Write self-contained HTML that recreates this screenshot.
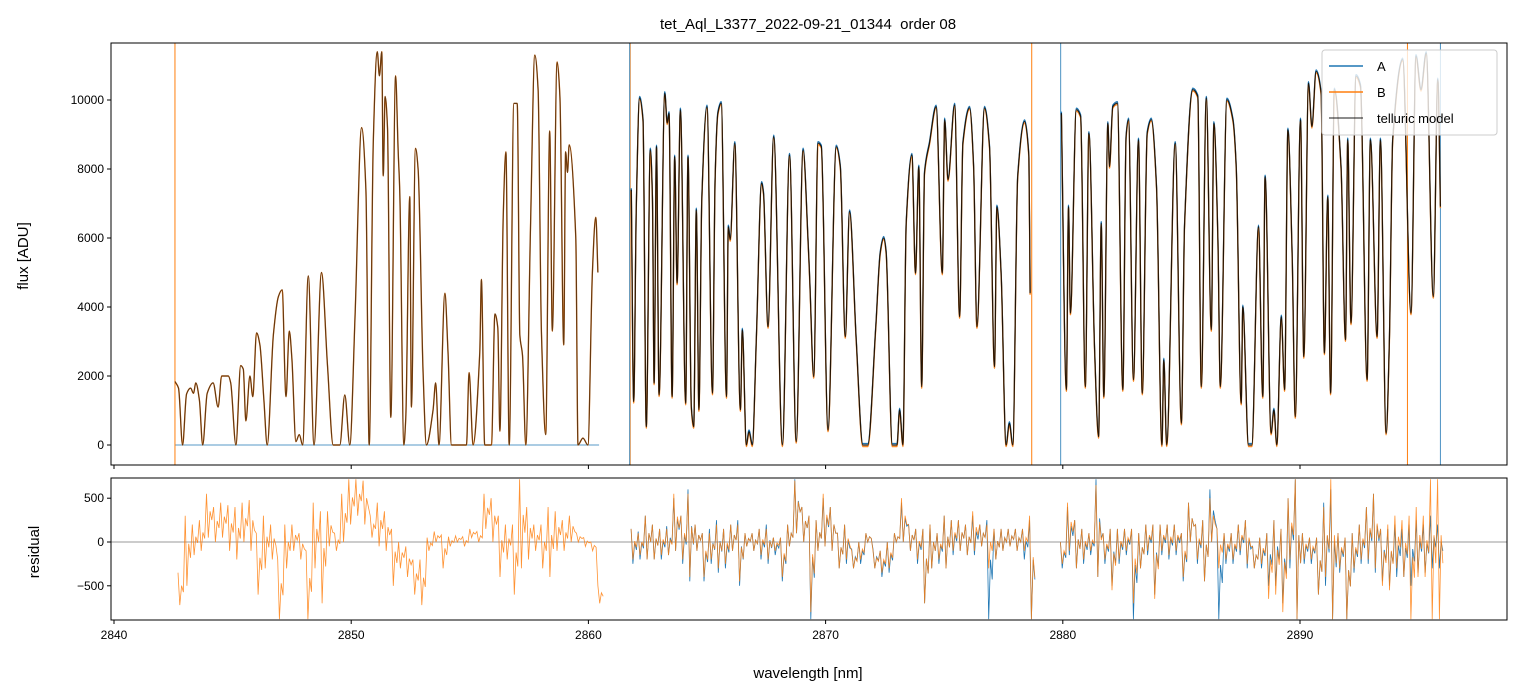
<!DOCTYPE html>
<html><head><meta charset="utf-8">
<style>
body{margin:0;background:#fff;}
svg{display:block;font-family:"Liberation Sans","DejaVu Sans",sans-serif;}
</style></head>
<body>
<svg id="chart" width="1520" height="696" viewBox="0 0 1520 696" xmlns="http://www.w3.org/2000/svg">
<defs>
<clipPath id="clipTop"><rect x="111" y="43" width="1396" height="422"/></clipPath>
<clipPath id="clipBot"><rect x="111" y="478" width="1396" height="142"/></clipPath>
</defs>
<rect width="1520" height="696" fill="#fff"/>
<text x="808" y="29" font-size="15" text-anchor="middle" style="white-space:pre">tet_Aql_L3377_2022-09-21_01344  order 08</text>
<g id="topMarks" clip-path="url(#clipTop)"></g>
<g id="botMarks" clip-path="url(#clipBot)"></g>
<g id="axes"></g>
<text transform="translate(28,256) rotate(-90)" font-size="15" text-anchor="middle">flux [ADU]</text>
<text transform="translate(39,552) rotate(-90)" font-size="15" text-anchor="middle">residual</text>
<text x="808" y="678" font-size="15" text-anchor="middle">wavelength [nm]</text>
<g>
<rect x="1322" y="50" width="175" height="85" rx="3" fill="#fff" fill-opacity="0.8" stroke="#ccc"/>
<line x1="1329" y1="66" x2="1363" y2="66" stroke="#1f77b4" stroke-width="1.5"/>
<text x="1377" y="71" font-size="13">A</text>
<line x1="1329" y1="92" x2="1363" y2="92" stroke="#ff7f0e" stroke-width="1.5"/>
<text x="1377" y="97" font-size="13">B</text>
<line x1="1329" y1="118" x2="1363" y2="118" stroke="#000" stroke-opacity="0.6" stroke-width="1.5"/>
<text x="1377" y="123" font-size="13">telluric model</text>
</g>
</svg>
<script>
const xTicks=[2840,2850,2860,2870,2880,2890];
const yTicksTop=[0,2000,4000,6000,8000,10000];
const yTicksBot=[-500,0,500];
const seg1Wl=[2842.57,2842.72,2842.89,2843.06,2843.23,2843.35,2843.45,2843.6,2843.74,2843.93,2844.18,2844.39,2844.54,2844.82,2844.92,2845.14,2845.34,2845.45,2845.56,2845.73,2845.85,2846.01,2846.15,2846.32,2846.46,2846.72,2846.93,2847.09,2847.25,2847.39,2847.5,2847.67,2847.81,2847.95,2848.19,2848.43,2848.75,2849.0,2849.24,2849.52,2849.73,2849.94,2850.16,2850.44,2850.62,2850.76,2850.93,2851.10,2851.19,2851.29,2851.35,2851.43,2851.53,2851.67,2851.87,2851.98,2852.05,2852.22,2852.3,2852.47,2852.54,2852.71,2852.82,2853.03,2853.17,2853.45,2853.56,2853.70,2853.95,2854.08,2854.23,2854.86,2854.97,2855.14,2855.42,2855.49,2855.63,2855.91,2856.06,2856.18,2856.27,2856.41,2856.52,2856.66,2856.86,2857.0,2857.11,2857.22,2857.36,2857.56,2857.74,2857.88,2858.02,2858.2,2858.37,2858.48,2858.68,2858.8,2858.96,2859.04,2859.12,2859.19,2859.47,2859.56,2859.77,2859.98,2860.17,2860.31,2860.4];
const seg1Flux=[1840,1650,0,1480,1650,1500,1800,1300,0,1500,1800,1100,2000,2000,1800,0,2300,2200,700,2000,1400,3250,2900,1300,0,3200,4300,4500,1400,3300,2500,100,300,0,4900,0,5000,2300,0,0,1450,0,3700,9200,7400,0,8800,11400,10700,11400,7800,10100,9200,800,10700,8500,7300,0,800,7200,1100,8600,8000,2100,0,1000,1800,0,4400,2700,0,0,2100,0,2700,4800,0,0,3800,3400,400,6600,8500,0,9900,9900,3200,2600,0,6300,11300,10300,3300,300,9100,3300,11100,10100,2900,8500,7900,8700,6000,0,200,0,5000,6600,5000];
const seg2Wl=[2861.81,2861.91,2862.02,2862.16,2862.30,2862.44,2862.61,2862.70,2862.77,2862.87,2862.98,2863.22,2863.32,2863.40,2863.53,2863.64,2863.74,2863.88,2864.10,2864.20,2864.34,2864.44,2864.55,2864.66,2864.78,2865.00,2865.23,2865.34,2865.46,2865.60,2865.82,2865.90,2865.98,2866.17,2866.41,2866.49,2866.66,2866.77,2866.91,2867.08,2867.30,2867.38,2867.57,2867.81,2868.18,2868.48,2868.76,2869.05,2869.26,2869.33,2869.50,2869.68,2869.82,2870.10,2870.45,2870.62,2870.83,2871.01,2871.29,2871.57,2871.78,2872.11,2872.30,2872.45,2872.55,2872.81,2873.01,2873.12,2873.26,2873.40,2873.64,2873.79,2873.93,2874.05,2874.17,2874.38,2874.66,2874.92,2875.02,2875.16,2875.44,2875.65,2875.79,2876.07,2876.24,2876.38,2876.70,2876.91,2877.12,2877.22,2877.40,2877.61,2877.75,2877.89,2878.10,2878.39,2878.57,2878.62];
const seg2Flux=[7400,1260,6900,10060,9430,530,8560,7200,1790,8650,1450,10200,9330,9620,1400,8360,4690,9720,1210,8360,1110,530,6820,1020,7110,9810,1500,7690,9620,9910,1400,6330,5950,8750,1020,3340,0,390,0,3050,7590,7300,3430,8940,0,8410,100,8560,5950,4800,1980,8750,8650,430,8650,8070,3140,6770,3050,0,0,3340,5560,6000,5600,0,0,1020,0,6430,8410,4980,8070,1690,7880,8750,9810,4980,9430,7690,9860,3720,8750,9770,8070,3430,9770,8650,2270,6910,4980,0,630,0,7780,9380,8360,4400];
const seg3Wl=[2879.94,2880.15,2880.24,2880.32,2880.57,2880.75,2880.95,2881.10,2881.34,2881.51,2881.62,2881.73,2881.90,2881.97,2882.11,2882.30,2882.53,2882.67,2882.77,2882.98,2883.19,2883.35,2883.56,2883.73,2883.95,2884.18,2884.26,2884.38,2884.74,2885.0,2885.13,2885.48,2885.69,2885.84,2886.05,2886.26,2886.37,2886.54,2886.64,2886.92,2887.17,2887.31,2887.52,2887.59,2887.83,2887.97,2888.25,2888.43,2888.53,2888.78,2888.90,2889.02,2889.21,2889.35,2889.49,2889.67,2889.80,2890.02,2890.16,2890.36,2890.50,2890.68,2890.89,2891.03,2891.17,2891.29,2891.45,2891.73,2891.92,2892.01,2892.15,2892.36,2892.55,2892.83,2892.97,2893.25,2893.39,2893.63,2893.77,2893.91,2894.33,2894.68,2894.89,2895.10,2895.32,2895.62,2895.81,2895.92];
const seg3Flux=[9620,1600,6910,3820,9720,9530,1690,9040,2760,240,6430,1400,9330,8070,9810,9910,1600,8940,9430,1890,8850,1500,9040,9430,7490,0,2470,0,8750,630,6330,10300,10100,1690,10060,3340,9330,5950,1690,10010,9430,8070,1210,4010,0,0,6330,1400,7780,340,1020,0,3720,1600,9140,5460,820,9430,2560,10490,9230,10830,10200,2660,7200,1500,10300,8070,3050,8850,3530,10690,10400,1890,8850,3140,8850,340,3050,8850,11170,3820,11270,10300,11360,4300,10590,6910];
const spikeBWl=[2842.57,2861.76,2878.69,2894.53];
const spikeAWl=[2861.74,2879.91,2895.92];
const resStart=[2842.7,2861.8,2879.9];
const resStep=0.3;
const resB1Hi=[-350,300,200,250,550,400,450,420,400,450,480,100,300,200,-200,200,200,100,-100,450,350,350,100,550,716,716,700,300,450,350,150,0,-50,-200,-200,50,120,80,60,70,60,150,120,550,500,300,200,200,716,400,200,200,400,350,250,300,100,50,0,-500];
const resB1Lo=[-720,-500,-150,-100,50,0,50,-100,-200,0,-100,-600,-300,-200,-880,-300,-100,-200,-880,-300,-700,-50,-100,0,200,300,200,50,-50,-100,-500,-300,-400,-600,-720,-100,0,-300,-50,0,-50,50,0,150,0,-400,-200,-600,-300,-200,-100,-300,-400,-100,-100,0,0,-50,-100,-700];
const resB2Hi=[150,100,300,200,150,150,550,300,550,200,100,100,200,150,200,200,100,100,150,150,50,50,200,700,400,300,250,550,400,100,200,-100,0,100,-100,-100,0,100,500,200,150,150,200,100,300,250,250,200,350,200,200,150,150,150,150,150,300];
const resB2Lo=[-200,-150,-200,-200,-150,-150,-100,-200,-400,-100,-400,-200,-300,-250,-100,-450,-50,-100,-150,-200,-100,-400,-50,100,0,-800,-100,-50,-100,-300,-200,-300,-200,0,-300,-350,-300,0,0,-100,-200,-700,-300,-200,-300,-100,-100,-150,-100,-50,-300,-200,-100,-50,-100,-100,-880];
const resA2Hi=[150,120,300,200,150,180,500,300,600,200,100,150,250,150,200,250,100,100,150,200,50,50,200,716,400,300,250,500,400,100,200,-80,0,100,-80,-100,0,100,450,200,150,150,200,100,300,250,250,200,300,200,250,150,150,150,150,150,250];
const resA2Lo=[-250,-200,-200,-200,-200,-150,-100,-250,-450,-100,-450,-250,-350,-300,-100,-500,-50,-100,-200,-250,-150,-450,-50,100,0,-880,-100,-50,-100,-300,-250,-300,-250,0,-300,-400,-350,0,0,-100,-250,-700,-300,-250,-300,-150,-100,-150,-150,-50,-880,-200,-100,-50,-100,-200,-880];
const resB3Hi=[0,450,250,150,100,650,100,150,150,150,150,100,200,200,200,200,200,100,450,200,250,500,150,100,100,200,250,-50,50,100,250,150,500,716,100,50,50,400,716,100,50,100,200,400,550,150,200,300,250,300,400,300,716,716];
const resB3Lo=[-250,-100,-300,-200,-100,-400,-200,-550,-200,-100,-700,-300,-100,-650,-100,-150,-100,-400,0,-200,-450,0,-300,-200,-200,-100,-250,-300,-250,-650,-600,-800,-200,-880,-200,-200,-600,-400,-880,-300,-880,-300,-200,-200,-300,-500,-550,-300,-400,-880,-400,-400,-880,-880];
const resA3Hi=[0,400,250,150,100,716,100,150,150,150,150,100,200,200,200,200,200,100,450,200,250,600,150,100,100,200,250,-50,50,100,250,150,500,716,100,50,50,450,600,100,50,100,200,400,550,150,150,200,150,200,250,200,300,200];
const resA3Lo=[-300,-150,-300,-250,-150,-400,-250,-500,-250,-150,-880,-300,-150,-600,-150,-200,-150,-450,0,-250,-450,0,-880,-250,-250,-150,-300,-300,-300,-500,-500,-700,-300,-880,-250,-250,-600,-500,-880,-350,-880,-350,-250,-250,-350,-450,-500,-400,-400,-500,-350,-350,-300,-300];

const NS='http://www.w3.org/2000/svg';
const X=w=>114+(w-2840)*23.72;
const YT=f=>445-f*0.0345;
const YB=r=>542-r*0.0876;
function mk(tag,attrs,parent){const e=document.createElementNS(NS,tag);for(const k in attrs)e.setAttribute(k,attrs[k]);parent.appendChild(e);return e;}
const topG=document.getElementById('topMarks'),botG=document.getElementById('botMarks'),axesG=document.getElementById('axes');

// monotone cubic (Fritsch-Carlson) through screen points
function smoothPath(px,py){
  const n=px.length;const d=[],m=new Array(n).fill(0);
  for(let i=0;i<n-1;i++)d.push((py[i+1]-py[i])/(px[i+1]-px[i]||1e-6));
  m[0]=d[0];m[n-1]=d[n-2];
  for(let i=1;i<n-1;i++){m[i]=(d[i-1]*d[i]<=0)?0:2/(1/d[i-1]+1/d[i]);}
  let s='M'+px[0].toFixed(1)+' '+py[0].toFixed(1);
  for(let i=0;i<n-1;i++){const h=(px[i+1]-px[i])/3;
    s+=' C'+(px[i]+h).toFixed(1)+' '+(py[i]+m[i]*h).toFixed(1)+' '+(px[i+1]-h).toFixed(1)+' '+(py[i+1]-m[i+1]*h).toFixed(1)+' '+px[i+1].toFixed(1)+' '+py[i+1].toFixed(1);}
  return s;}
function specPath(wl,fl,dy){return smoothPath(wl.map(X),fl.map(f=>YT(f)+dy));}

let l=mk('line',{x1:X(2842.57),x2:X(2860.45),y1:YT(0),y2:YT(0),stroke:'#1f77b4','stroke-width':0.8},topG);


spikeBWl.forEach(w=>{const s=mk('line',{x1:X(w),x2:X(w),y1:43,y2:465,stroke:'#ff7f0e','stroke-width':1},topG);

});
spikeAWl.forEach(w=>{const s=mk('line',{x1:X(w),x2:X(w),y1:43,y2:465,stroke:'#1f77b4','stroke-width':1,'stroke-opacity':0.8},topG);

});
[[seg1Wl,seg1Flux,false],[seg2Wl,seg2Flux,true],[seg3Wl,seg3Flux,true]].forEach(([wl,fl,hasA],k)=>{
  if(hasA){const a=mk('path',{d:specPath(wl,fl,-1.5),fill:'none',stroke:'#1f77b4','stroke-width':1.3},topG);
  
  }
  const b=mk('path',{d:specPath(wl,fl,hasA?1.5:0),fill:'none',stroke:'#ff7f0e','stroke-width':1.4,'stroke-opacity':0.9},topG);
  
  
  const m=mk('path',{d:specPath(wl,fl,0),fill:'none',stroke:'#000','stroke-opacity':hasA?0.85:0.6,'stroke-width':1.2},topG);
  
  
});
let zl=mk('line',{x1:111,x2:1507,y1:YB(0),y2:YB(0),stroke:'#777','stroke-width':0.8},botG);


function resPath(start,hi,lo){let d='';hi.forEach((h,i)=>{const w=start+i*resStep;const L=lo[i];
 const pts=[[w,h],[w+resStep*0.25,L],[w+resStep*0.5,0.6*h+0.4*L],[w+resStep*0.75,0.4*h+0.6*L]];
 pts.forEach((p,j)=>{d+=((i||j)?'L':'M')+X(p[0]).toFixed(1)+' '+YB(p[1]).toFixed(1)+' ';});});return d;}
[[resStart[1],resA2Hi,resA2Lo],[resStart[2],resA3Hi,resA3Lo]].forEach(([s,h,lo],k)=>{
 const p=mk('path',{d:resPath(s,h,lo),fill:'none',stroke:'#1f77b4','stroke-width':0.8},botG);
 
 });
[[resStart[0],resB1Hi,resB1Lo],[resStart[1],resB2Hi,resB2Lo],[resStart[2],resB3Hi,resB3Lo]].forEach(([s,h,lo],k)=>{
 const p=mk('path',{d:resPath(s,h,lo),fill:'none',stroke:'#ff7f0e','stroke-width':0.8,'stroke-opacity':0.85},botG);
 
 });
[[43,465,'top-panel-frame'],[478,620,'residual-panel-frame']].forEach(([y1,y2,n])=>{
 const r=mk('rect',{x:111,y:y1,width:1396,height:y2-y1,fill:'none',stroke:'#000','stroke-width':1},axesG);
 
 });
xTicks.forEach(t=>{const x=X(t);
 mk('line',{x1:x,x2:x,y1:465,y2:469,stroke:'#000'},axesG);
 mk('line',{x1:x,x2:x,y1:620,y2:624,stroke:'#000'},axesG);
 const tx=mk('text',{x:x,y:639,'font-size':12,'text-anchor':'middle'},axesG);tx.textContent=t;
 
 });
yTicksTop.forEach(t=>{const y=YT(t);
 mk('line',{x1:107,x2:111,y1:y,y2:y,stroke:'#000'},axesG);
 const tx=mk('text',{x:104,y:y+4,'font-size':12,'text-anchor':'end'},axesG);tx.textContent=t;
 
 });
yTicksBot.forEach(t=>{const y=YB(t);
 mk('line',{x1:107,x2:111,y1:y,y2:y,stroke:'#000'},axesG);
 const tx=mk('text',{x:104,y:y+4,'font-size':12,'text-anchor':'end'},axesG);tx.textContent=(t<0?'\u2212'+(-t):t);
 
 });
</script>
</body></html>
